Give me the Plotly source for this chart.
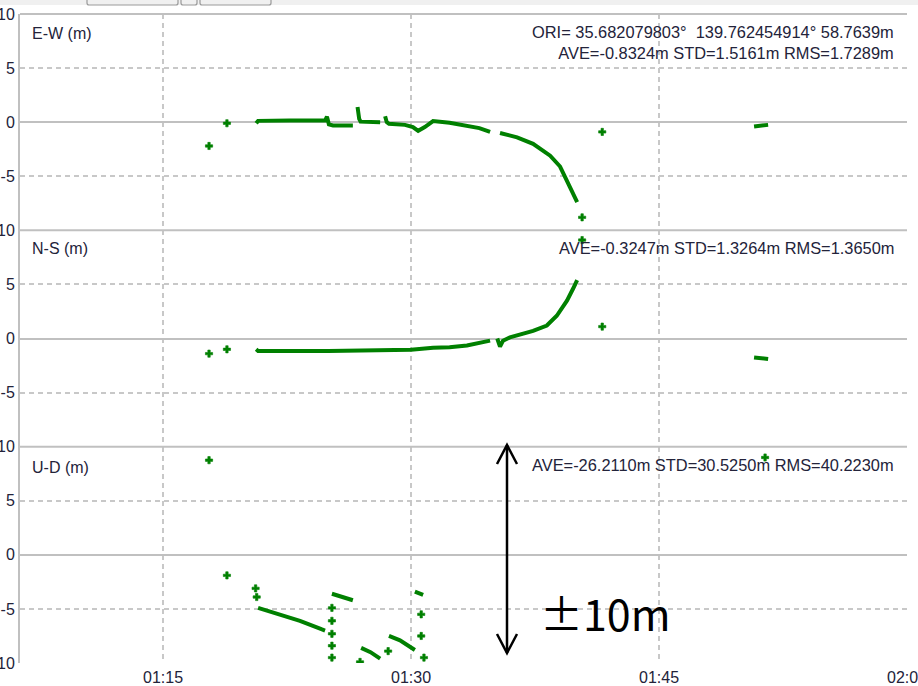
import pandas as pd
import plotly.graph_objects as go
from plotly.subplots import make_subplots

DAY = "2000-01-01 "

# ---- positioning error per component (m); None splits separate runs ----
ew_time = ["01:17:47", None, "01:18:52", None,
           "01:20:38", "01:20:45", "01:22:40", "01:24:48", "01:24:55", "01:25:02",
           "01:25:17", "01:26:29", None,
           "01:26:46", "01:26:48", "01:26:52", "01:26:57", "01:28:08", None,
           "01:28:26", "01:28:32", "01:28:40", "01:29:38", "01:30:07", "01:30:26",
           "01:30:50", "01:31:20", "01:32:20", "01:33:23", "01:34:08", "01:34:47", None,
           "01:35:23", "01:36:25", "01:37:23", "01:38:25", "01:39:01", "01:39:26",
           "01:39:44", "01:40:03", None,
           "01:40:21", None, "01:41:34", None,
           "01:50:45", "01:51:36"]
ew_val = [-2.2, None, -0.1, None,
          -0.1, 0.12, 0.15, 0.15, 0.5, -0.2,
          -0.3, -0.3, None,
          1.4, 0.9, 0.3, 0.05, 0.0, None,
          0.55, 0.0, -0.15, -0.25, -0.45, -0.8,
          -0.45, 0.1, -0.05, -0.3, -0.55, -0.9, None,
          -1.0, -1.4, -2.0, -3.1, -4.1, -5.4,
          -6.3, -7.4, None,
          -8.8, None, -0.9, None,
          -0.4, -0.25]

ns_time = ["01:17:47", None, "01:18:52", None,
           "01:20:38", "01:20:45", "01:25:00", "01:30:00", "01:31:20", "01:32:20",
           "01:33:23", "01:34:22", "01:34:47", None,
           "01:35:13", "01:35:23", "01:35:34", "01:35:59", "01:37:23", "01:38:13",
           "01:38:49", "01:39:26", "01:39:48", "01:40:03", None,
           "01:40:21", None, "01:41:34", None,
           "01:50:45", "01:51:36"]
ns_val = [-1.4, None, -1.0, None,
          -1.0, -1.15, -1.15, -1.05, -0.85, -0.8,
          -0.65, -0.35, -0.2, None,
          0.0, -0.75, -0.2, 0.1, 0.7, 1.2,
          2.1, 3.5, 4.6, 5.4, None,
          9.1, None, 1.1, None,
          -1.75, -1.9]

ud_time = ["01:17:47", None, "01:18:52", None, "01:20:36", None, "01:20:40", None,
           "01:20:45", "01:22:00", "01:23:17", "01:24:37", "01:24:48", None,
           "01:25:13", None, "01:25:13", None, "01:25:13", None, "01:25:13", None,
           "01:25:13", None,
           "01:25:13", "01:26:29", None,
           "01:26:55", None,
           "01:26:59", "01:27:33", "01:28:08", None,
           "01:28:37", None,
           "01:28:40", "01:29:20", "01:30:14", None,
           "01:30:14", "01:30:44", None,
           "01:30:37", None, "01:30:37", None, "01:30:47", None,
           "01:51:25"]
ud_val = [8.75, None, -1.9, None, -3.1, None, -3.9, None,
          -4.9, -5.5, -6.1, -6.9, -7.0, None,
          -4.9, None, -6.1, None, -7.3, None, -8.4, None,
          -9.5, None,
          -3.6, -4.2, None,
          -9.9, None,
          -8.6, -9.0, -9.6, None,
          -8.9, None,
          -7.5, -7.9, -8.8, None,
          -3.4, -3.7, None,
          -5.5, None, -7.5, None, -9.5, None,
          9.0]

panel_names = ["E-W (m)", "N-S (m)", "U-D (m)"]
panel_stats = [
    "ORI=\u00a035.682079803°\u00a0\u00a0139.762454914°\u00a058.7639m<br>"
    "AVE=-0.8324m STD=1.5161m RMS=1.7289m",
    "AVE=-0.3247m STD=1.3264m RMS=1.3650m",
    "AVE=-26.2110m STD=30.5250m RMS=40.2230m",
]
x_ticks = ["01:15", "01:30", "01:45", "02:00"]
y_ticks = [-10, -5, 0, 5, 10]

GREEN = "#008000"
GRID = "#c8c8c8"
FRAME = "#c0c0c0"
TEXT = "#23233a"
FONT = "Liberation Sans"

W, H = 918, 686
L, R, T, B = 20, 11, 14, 23


def px2x(px):
    return (px - L) / (W - L - R)


def px2y(py):
    return (H - B - py) / (H - T - B)


def to_dt(times):
    return [pd.Timestamp(DAY + t) if t else None for t in times]


def lone_marker_sizes(values, size=6):
    # show a cross only where a sample stands alone between gaps
    out = []
    for i, v in enumerate(values):
        prev_gap = i == 0 or values[i - 1] is None
        next_gap = i == len(values) - 1 or values[i + 1] is None
        out.append(size if (v is not None and prev_gap and next_gap) else 0)
    return out


fig = make_subplots(rows=3, cols=1, shared_xaxes=True, vertical_spacing=0)

for row, (tt, vv) in enumerate([(ew_time, ew_val), (ns_time, ns_val), (ud_time, ud_val)], start=1):
    fig.add_trace(go.Scatter(
        x=to_dt(tt), y=vv, mode="lines+markers", connectgaps=False,
        line=dict(color=GREEN, width=4),
        marker=dict(color=GREEN, size=lone_marker_sizes(vv), symbol="cross", opacity=1,
                    line=dict(color=GREEN, width=0.6)),
        showlegend=False, hoverinfo="skip"), row=row, col=1)

x_range = [pd.Timestamp(DAY + "01:06:21"), pd.Timestamp(DAY + "02:00:00")]
# labels on shared panel borders are written once
y_labels = [
    ["", "-5", "0", "5", "10"],
    ["", "-5", "0", "5", "10"],
    ["10", "-5", "0", "5", "10"],
]
for row in range(1, 4):
    fig.update_xaxes(
        range=x_range, tickvals=[pd.Timestamp(DAY + t) for t in x_ticks], ticktext=x_ticks,
        showgrid=True, gridcolor=GRID, gridwidth=1.5, griddash="5px,4px",
        showline=False, zeroline=False, ticks="", ticklabelstandoff=3, automargin=False,
        ticklabeloverflow="allow",
        tickfont=dict(family=FONT, size=16, color=TEXT), row=row, col=1)
    fig.update_yaxes(
        range=[-10, 10], tickvals=y_ticks, ticktext=y_labels[row - 1],
        showgrid=True, gridcolor=GRID, gridwidth=1.5, griddash="5px,4px",
        zeroline=True, zerolinecolor=FRAME, zerolinewidth=2, automargin=False,
        showline=True, linecolor=FRAME, linewidth=2, ticks="", ticklabelstandoff=0,
        ticklabeloverflow="allow",
        tickfont=dict(family=FONT, size=16, color=TEXT), row=row, col=1)

shapes = []
# solid frame lines at the top of each panel
for yb in [1.0, 2 / 3, 1 / 3]:
    shapes.append(dict(type="line", xref="paper", yref="paper", x0=0, x1=1, y0=yb, y1=yb,
                       line=dict(color=FRAME, width=2)))

# window strip with tab buttons above the plot
shapes.append(dict(type="rect", xref="paper", yref="paper",
                   x0=px2x(0), x1=px2x(W), y0=px2y(5), y1=px2y(0),
                   fillcolor="#f0f0f0", line=dict(width=0), layer="below"))
for bx0, bx1 in [(87, 178), (181, 197), (200, 271)]:
    path = (f"M{px2x(bx0)},{px2y(0)} L{px2x(bx0)},{px2y(3)} "
            f"Q{px2x(bx0)},{px2y(5)} {px2x(bx0 + 2)},{px2y(5)} "
            f"L{px2x(bx1 - 2)},{px2y(5)} Q{px2x(bx1)},{px2y(5)} {px2x(bx1)},{px2y(3)} "
            f"L{px2x(bx1)},{px2y(0)}")
    shapes.append(dict(type="path", xref="paper", yref="paper", path=path,
                       line=dict(color="#9a9a9a", width=1.2)))

# double-headed arrow marking the +/-10 m span
ax, ay0, ay1 = 507, 445, 653
shapes.append(dict(type="line", xref="paper", yref="paper",
                   x0=px2x(ax), x1=px2x(ax), y0=px2y(ay0), y1=px2y(ay1),
                   line=dict(color="black", width=2.5)))
for tip, back in [(ay0, ay0 + 19), (ay1, ay1 - 19)]:
    path = (f"M{px2x(ax - 10)},{px2y(back)} L{px2x(ax)},{px2y(tip)} "
            f"L{px2x(ax + 10)},{px2y(back)}")
    shapes.append(dict(type="path", xref="paper", yref="paper", path=path,
                       line=dict(color="black", width=2.5)))

annotations = []
name_y = [33, 249, 467]
stats_y = [42, 248, 465]
for name, ny, stats, sy in zip(panel_names, name_y, panel_stats, stats_y):
    annotations.append(dict(text=name, xref="paper", yref="paper", x=px2x(30), y=px2y(ny),
                            xanchor="left", yanchor="middle", showarrow=False,
                            font=dict(family=FONT, size=16, color=TEXT)))
    annotations.append(dict(text=stats, xref="paper", yref="paper", x=px2x(896), y=px2y(sy),
                            xanchor="right", yanchor="middle", align="right", showarrow=False,
                            font=dict(family=FONT, size=16.4, color=TEXT)))
annotations.append(dict(text="±10m", xref="paper", yref="paper", x=px2x(538), y=px2y(612),
                        xanchor="left", yanchor="middle", showarrow=False,
                        font=dict(family="Noto Sans CJK JP", size=43, color="black")))

fig.update_layout(
    width=W, height=H, margin=dict(l=L, r=R, t=T, b=B),
    paper_bgcolor="white", plot_bgcolor="white",
    shapes=shapes, annotations=annotations, showlegend=False,
)

fig.write_html("out.html")
